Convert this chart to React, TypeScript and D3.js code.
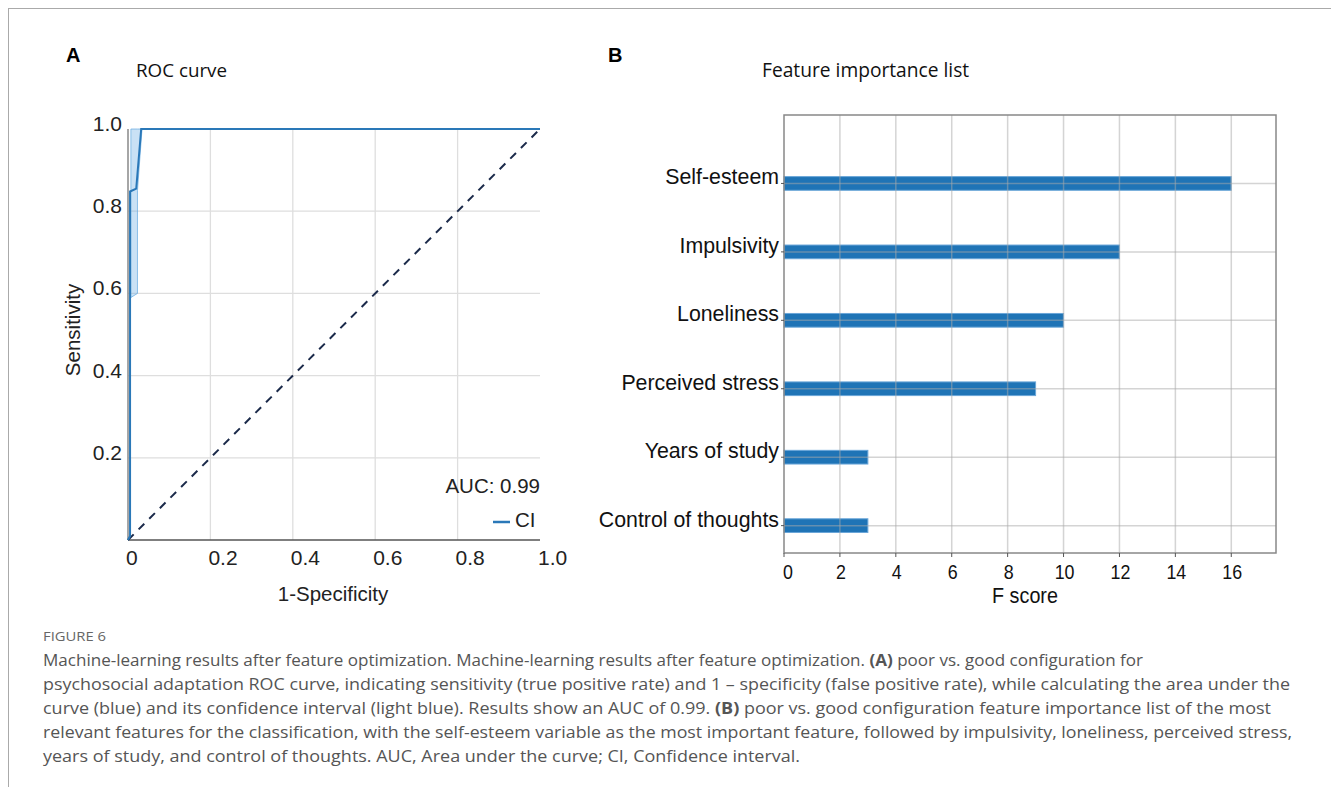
import React, { useEffect, useRef } from 'react';
import * as d3 from 'd3';

// ROC curve (panel A)
const rocFpr = [0, 0.005, 0.005, 0.02, 0.032, 1];
const rocTpr = [0, 0.01, 0.848, 0.855, 1, 1];
// confidence band
const ciFpr = [0.007, 0.023, 0.023, 0.034];
const ciLower = [0.59, 0.6, 0.85, 1.0];
const ciUpper = [1, 1, 1, 1];
const rocXTicks = [0, 0.2, 0.4, 0.6, 0.8, 1.0];
const rocXLabels = ['0', '0.2', '0.4', '0.6', '0.8', '1.0'];
const rocYTicks = [0.2, 0.4, 0.6, 0.8, 1.0];
const rocYLabels = ['0.2', '0.4', '0.6', '0.8', '1.0'];
const aucText = 'AUC: 0.99';

// feature importance (panel B)
const features = ['Self-esteem', 'Impulsivity', 'Loneliness', 'Perceived stress', 'Years of study', 'Control of thoughts'];
const fScores = [16, 12, 10, 9, 3, 3];
const fTicks = [0, 2, 4, 6, 8, 10, 12, 14, 16];

const captionLines = [
  [['Machine-learning results after feature optimization. Machine-learning results after feature optimization. ', false], ['(A)', true], [' poor vs. good configuration for', false]],
  [['psychosocial adaptation ROC curve, indicating sensitivity (true positive rate) and 1 \u2013 specificity (false positive rate), while calculating the area under the', false]],
  [['curve (blue) and its confidence interval (light blue). Results show an AUC of 0.99. ', false], ['(B)', true], [' poor vs. good configuration feature importance list of the most', false]],
  [['relevant features for the classification, with the self-esteem variable as the most important feature, followed by impulsivity, loneliness, perceived stress,', false]],
  [['years of study, and control of thoughts. AUC, Area under the curve; CI, Confidence interval.', false]],
];
const captionWidths = [1100, 1247, 1228, 1249, 757];

const W = 1331, H = 787;
const sans = 'Arial, "Liberation Sans", sans-serif';
const titleFont = '"Open Sans", "Noto Sans", sans-serif';
const blue = '#1f74b6';

function App() {
  const ref = useRef<SVGSVGElement>(null);

  useEffect(() => {
    const svg = d3.select(ref.current);
    svg.selectAll('*').remove();

    // frame
    svg.append('line').attr('x1', 8).attr('y1', 8.5).attr('x2', W).attr('y2', 8.5).attr('stroke', '#aaa');
    svg.append('line').attr('x1', 8.5).attr('y1', 8).attr('x2', 8.5).attr('y2', H).attr('stroke', '#aaa');

    // ---------- panel A ----------
    const x = d3.scaleLinear().domain([0, 1]).range([128, 540]);
    const y = d3.scaleLinear().domain([0, 1]).range([540, 129]);
    const a = svg.append('g');

    a.append('text').attr('x', 66).attr('y', 62).attr('font-family', sans).attr('font-weight', 'bold')
      .attr('font-size', 20).text('A');
    a.append('text').attr('x', 136).attr('y', 77).attr('font-family', titleFont).attr('font-size', 18.8)
      .attr('fill', '#111').text('ROC curve');

    // grid
    a.selectAll('.vg').data(rocXTicks.slice(1, 5)).enter().append('line')
      .attr('x1', d => x(d)).attr('x2', d => x(d)).attr('y1', y(1)).attr('y2', y(0))
      .attr('stroke', '#dedede').attr('stroke-width', 1.3);
    a.selectAll('.hg').data(rocYTicks.slice(0, 4)).enter().append('line')
      .attr('x1', x(0)).attr('x2', x(1)).attr('y1', d => y(d)).attr('y2', d => y(d))
      .attr('stroke', '#dedede').attr('stroke-width', 1.3);

    // CI band
    const band = d3.area<number>()
      .x((d, i) => x(ciFpr[i]))
      .y0((d, i) => y(ciLower[i]))
      .y1((d, i) => y(ciUpper[i]));
    a.append('path').attr('d', band(ciFpr)).attr('fill', 'rgba(100,170,225,0.35)')
      .attr('stroke', 'rgba(100,170,225,0.7)').attr('stroke-width', 1);

    // axes
    a.append('line').attr('x1', x(0)).attr('x2', x(0)).attr('y1', y(1)).attr('y2', y(0))
      .attr('stroke', '#888').attr('stroke-width', 1.5);
    a.append('line').attr('x1', x(0)).attr('x2', x(1)).attr('y1', y(0)).attr('y2', y(0))
      .attr('stroke', '#555').attr('stroke-width', 1.5);

    // diagonal
    a.append('line').attr('x1', x(0)).attr('y1', y(0)).attr('x2', x(1)).attr('y2', y(1))
      .attr('stroke', '#1b2a4a').attr('stroke-width', 2).attr('stroke-dasharray', '8,7');

    // ROC curve
    const line = d3.line<number>().x(d => x(d)).y((d, i) => y(rocTpr[i]));
    a.append('path').attr('d', line(rocFpr)).attr('fill', 'none').attr('stroke', '#2a78b8')
      .attr('stroke-width', 2);

    // tick labels
    a.selectAll('.xl').data(rocXTicks).enter().append('text')
      .attr('x', d => x(d) - 2).attr('y', 565).attr('font-family', sans).attr('font-size', 21)
      .attr('fill', '#222').text((d, i) => rocXLabels[i]);
    a.selectAll('.yl').data(rocYTicks).enter().append('text')
      .attr('x', 122).attr('y', d => y(d) + 2).attr('text-anchor', 'end').attr('font-family', sans)
      .attr('font-size', 21).attr('fill', '#222').text((d, i) => rocYLabels[i]);

    a.append('text').attr('x', 333).attr('y', 601).attr('text-anchor', 'middle').attr('font-family', sans)
      .attr('font-size', 20.5).attr('fill', '#222').text('1-Specificity');
    a.append('text').attr('transform', 'translate(80,330) rotate(-90)').attr('text-anchor', 'middle')
      .attr('font-family', sans).attr('font-size', 20.5).attr('fill', '#222').text('Sensitivity');

    // AUC and legend
    a.append('text').attr('x', 540).attr('y', 493).attr('text-anchor', 'end').attr('font-family', sans)
      .attr('font-size', 20.5).attr('fill', '#222').text(aucText);
    a.append('line').attr('x1', 493).attr('x2', 510).attr('y1', 522).attr('y2', 522)
      .attr('stroke', '#2a78b8').attr('stroke-width', 2.5);
    a.append('text').attr('x', 515).attr('y', 527).attr('font-family', sans).attr('font-size', 20.5)
      .attr('fill', '#222').text('CI');

    // ---------- panel B ----------
    const fx = d3.scaleLinear().domain([0, 17.6]).range([784, 1276]);
    const fy = d3.scaleLinear().domain([-0.4, 6.0]).range([553, 115]);
    const barH = fy(0) - fy(0.2);
    const b = svg.append('g');

    b.append('text').attr('x', 608).attr('y', 62).attr('font-family', sans).attr('font-weight', 'bold')
      .attr('font-size', 20).text('B');
    b.append('text').attr('x', 762).attr('y', 77).attr('font-family', titleFont).attr('font-size', 19.2)
      .attr('fill', '#111').text('Feature importance list');

    const idx = features.map((f, i) => features.length - 1 - i);

    b.selectAll('.bar').data(fScores).enter().append('rect')
      .attr('x', fx(0)).attr('y', (d, i) => fy(idx[i]) - barH / 2)
      .attr('width', d => fx(d) - fx(0)).attr('height', barH)
      .attr('fill', blue).attr('stroke', '#6aa6d8').attr('stroke-width', 1);

    // grid drawn over the bars
    b.selectAll('.vg').data(fTicks.slice(1)).enter().append('line')
      .attr('x1', d => fx(d)).attr('x2', d => fx(d)).attr('y1', fy(6)).attr('y2', fy(-0.4))
      .attr('stroke', 'rgba(170,170,170,0.5)').attr('stroke-width', 1.5);
    b.selectAll('.hg').data(idx).enter().append('line')
      .attr('x1', fx(0)).attr('x2', fx(17.6)).attr('y1', d => fy(d)).attr('y2', d => fy(d))
      .attr('stroke', 'rgba(170,170,170,0.5)').attr('stroke-width', 1.5);

    // frame
    b.append('rect').attr('x', fx(0)).attr('y', fy(6)).attr('width', fx(17.6) - fx(0))
      .attr('height', fy(-0.4) - fy(6)).attr('fill', 'none').attr('stroke', '#888').attr('stroke-width', 1.5);

    // ticks
    b.selectAll('.xt').data(fTicks).enter().append('line')
      .attr('x1', d => fx(d)).attr('x2', d => fx(d)).attr('y1', fy(-0.4)).attr('y2', fy(-0.4) + 4)
      .attr('stroke', '#555');
    b.selectAll('.yt').data(idx).enter().append('line')
      .attr('x1', fx(0) - 3).attr('x2', fx(0)).attr('y1', d => fy(d)).attr('y2', d => fy(d))
      .attr('stroke', '#555');

    b.selectAll('.xl').data(fTicks).enter().append('text')
      .attr('transform', d => `translate(${fx(d) + (d === 0 ? 4 : 1)},579) scale(0.85,1)`)
      .attr('text-anchor', 'middle').attr('font-family', sans).attr('font-size', 21)
      .attr('fill', '#111').text(d => d);

    b.selectAll('.yl').data(features).enter().append('text')
      .attr('transform', (d, i) => `translate(779,${fy(idx[i]) + 1}) scale(0.97,1)`)
      .attr('text-anchor', 'end').attr('font-family', sans).attr('font-size', 22)
      .attr('fill', '#111').text(d => d);

    b.append('text').attr('transform', 'translate(1025,603) scale(0.92,1)').attr('text-anchor', 'middle')
      .attr('font-family', sans).attr('font-size', 21.5).attr('fill', '#111').text('F score');

    // ---------- caption ----------
    const cap = svg.append('g').attr('font-family', titleFont).attr('fill', '#555');
    cap.append('text').attr('x', 43).attr('y', 641).attr('font-size', 13).attr('fill', '#666')
      .attr('textLength', 63).attr('lengthAdjust', 'spacingAndGlyphs').text('FIGURE 6');
    captionLines.forEach((parts, i) => {
      const t = cap.append('text').attr('x', 43).attr('y', 666 + i * 24).attr('font-size', 16.5)
        .attr('textLength', captionWidths[i]).attr('lengthAdjust', 'spacingAndGlyphs');
      parts.forEach(([s, bold]) => {
        t.append('tspan').attr('font-weight', bold ? 'bold' : 'normal').text(s as string);
      });
    });
  }, []);

  return (
    <svg ref={ref} width={W} height={H} style={{ position: 'absolute', left: 0, top: 0, background: '#fff' }} />
  );
}

export default App;
